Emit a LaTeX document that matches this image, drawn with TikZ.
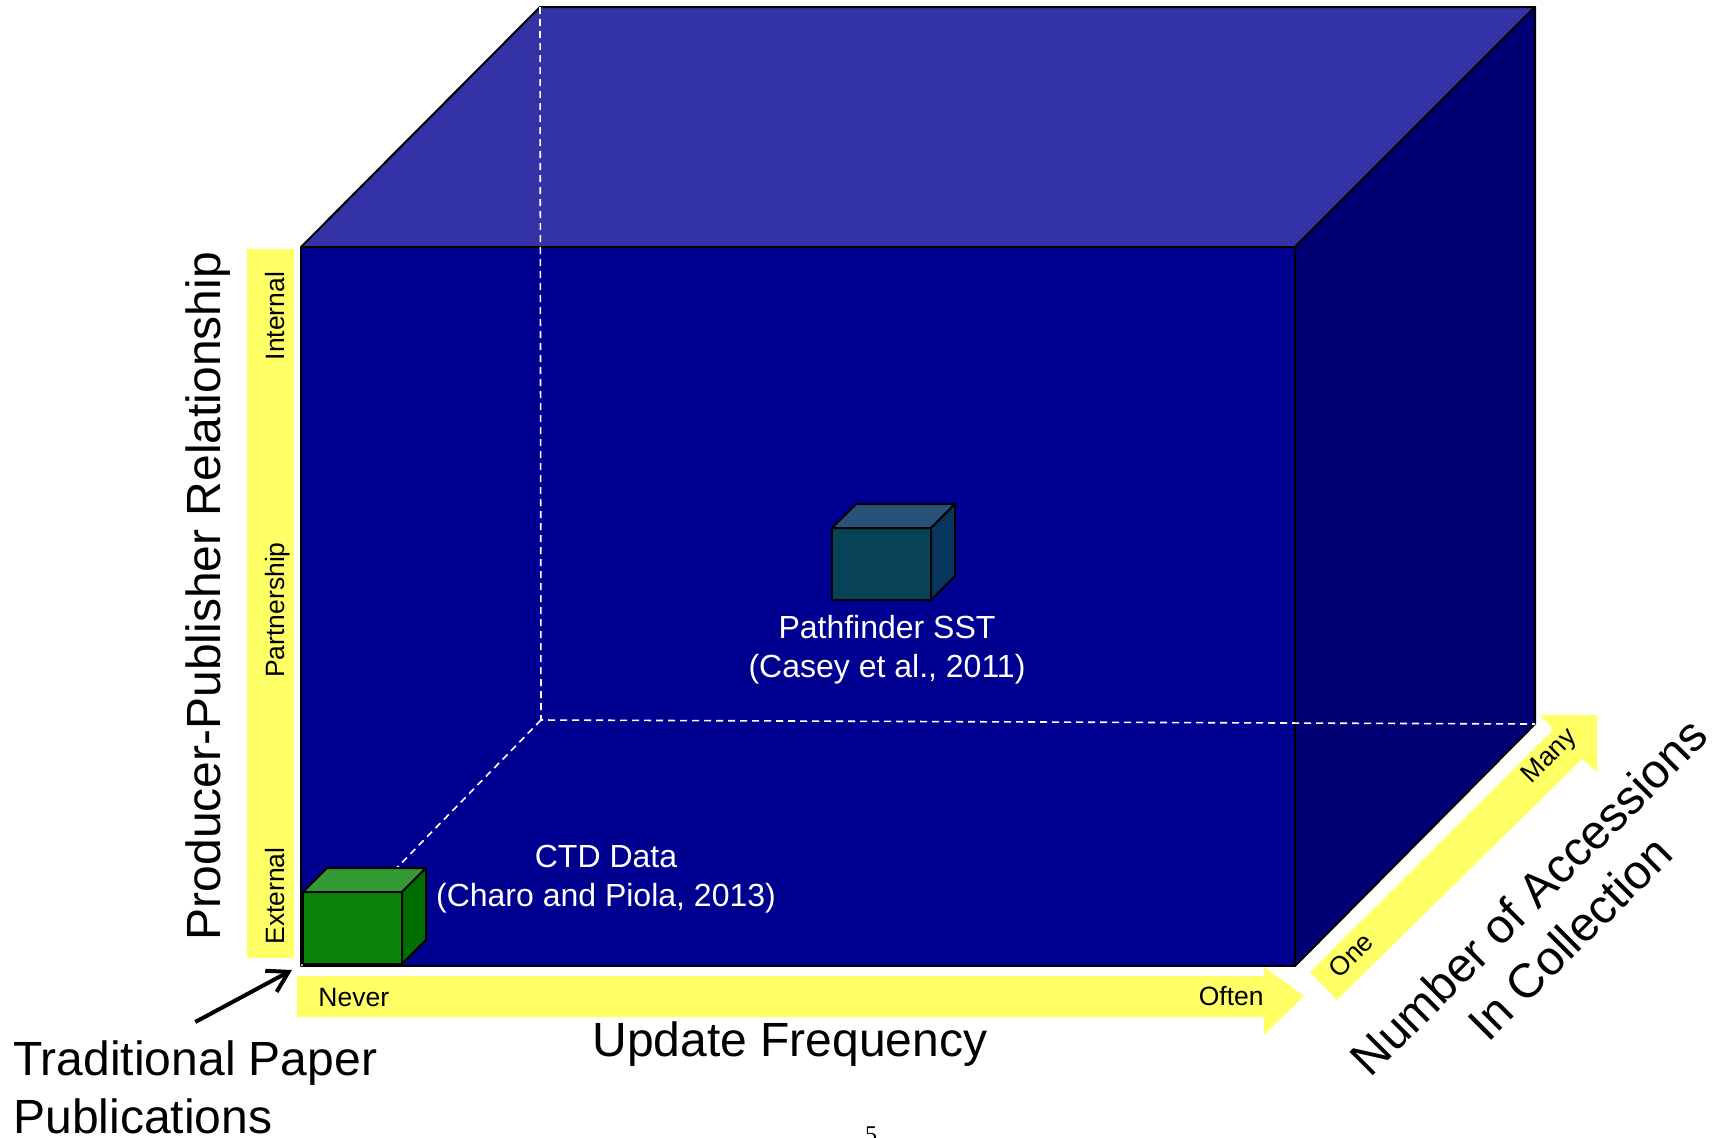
\documentclass[tikz,border=0pt]{standalone}
\usepackage{fontspec}
\setmainfont{Liberation Sans}
\newfontfamily\pagefont{Liberation Serif}
\usetikzlibrary{arrows.meta}

\definecolor{cubetop}{RGB}{51,51,166}
\definecolor{cubefront}{RGB}{0,0,144}
\definecolor{cubeside}{RGB}{0,0,116}
\definecolor{axisyellow}{RGB}{255,255,102}
\definecolor{frontgreen}{RGB}{12,130,12}
\definecolor{topgreen}{RGB}{51,153,51}
\definecolor{sidegreen}{RGB}{0,110,0}
\definecolor{frontsst}{RGB}{8,66,86}
\definecolor{topsst}{RGB}{40,82,120}
\definecolor{sidesst}{RGB}{8,54,92}

\tikzset{every node/.style={inner sep=0pt}}
\tikzset{edge/.style={draw=black, line width=1pt, line join=round}}
\tikzset{hidden/.style={draw=white, line width=0.8pt, dash pattern=on 3.5pt off 2.5pt}}
\tikzset{axisband/.style={fill=axisyellow, draw=none}}
\tikzset{title/.style={font=\fontsize{24}{29}\selectfont}}
\tikzset{level/.style={font=\fontsize{13.25}{16}\selectfont}}
\tikzset{study/.style={font=\fontsize{16}{19.5}\selectfont, text=white, align=center}}
\tikzset{pointer/.style={line width=2pt, -{Straight Barb[length=10pt,width=12pt]}}}

\begin{document}
\begin{tikzpicture}[x=0.5pt, y=-0.5pt]
  \useasboundingbox (0,0) rectangle (1724,1137);

  \coordinate (ftl) at (301,247);
  \coordinate (ftr) at (1295,247);
  \coordinate (fbr) at (1295,966);
  \coordinate (fbl) at (301,966);
  \coordinate (btl) at (540,7);
  \coordinate (btr) at (1535,7);
  \coordinate (bbr) at (1535,724);
  \coordinate (bbl) at (541,720);

  % the big cube
  \filldraw[edge, fill=cubefront] (ftl) -- (ftr) -- (fbr) -- (fbl) -- cycle;
  \filldraw[edge, fill=cubetop] (ftl) -- (btl) -- (btr) -- (ftr) -- cycle;
  \filldraw[edge, fill=cubeside] (ftr) -- (btr) -- (bbr) -- (fbr) -- cycle;

  \draw[hidden] (btl) -- (bbl) -- (bbr);
  \draw[hidden] (bbl) -- (fbl);

  % axes
  \fill[axisband] (247,249) rectangle (294,958);
  \fill[axisband] (297,976) -- (1264,976) -- (1264,967) -- (1304,996)
    -- (1264,1035) -- (1264,1017) -- (297,1017) -- cycle;
  \fill[axisband] (1310,972) -- (1553,730) -- (1540,715) -- (1597,715)
    -- (1597,772) -- (1582,759) -- (1337,1000) -- cycle;

  % data sets
  \foreach \cx/\cy/\cname in {303/964/green, 832/600/sst}{
    \filldraw[edge, fill=front\cname] (\cx,\cy) rectangle ++(99,-72);
    \filldraw[edge, fill=top\cname] (\cx,\cy-72) -- ++(99,0) -- ++(24,-24) -- ++(-99,0) -- cycle;
    \filldraw[edge, fill=side\cname] (\cx+99,\cy) -- ++(0,-72) -- ++(24,-24) -- ++(0,72) -- cycle;
  }

  \node[study] (ctd) at (606,879) {CTD Data\\(Charo and Piola, 2013)};
  \node[study] (sst) at (887,650) {Pathfinder SST\\(Casey et al., 2011)};

  \node[title, rotate=90] (producer) at (208,596) {Producer-Publisher Relationship};
  \node[level, rotate=90, anchor=base] (internal) at (284,316) {Internal};
  \node[level, rotate=90, anchor=base] (partner) at (284,610) {Partnership};
  \node[level, rotate=90, anchor=base] (external) at (284,896) {External};

  \node[level, anchor=base west] (never) at (318,1006) {Never};
  \node[level, anchor=base east] (often) at (1264,1005) {Often};
  \node[title, anchor=base] (update) at (790,1056) {Update Frequency};

  \node[level, rotate=45] (one) at (1351,955) {One};
  \node[level, rotate=45] (many) at (1550,757) {Many};
  \node[title, rotate=45, align=center] (accessions) at (1549,917) {Number of Accessions\\In Collection};

  \node[title, align=left, anchor=north west] (trad) at (13,1040) {Traditional Paper\\Publications};
  \coordinate (corner) at (292,970);
  \draw[pointer] ([yshift=9pt]trad.north) -- (corner);

  \node[font=\pagefont\fontsize{12}{14}\selectfont, anchor=north] (page) at (871,1126) {5};
\end{tikzpicture}
\end{document}
